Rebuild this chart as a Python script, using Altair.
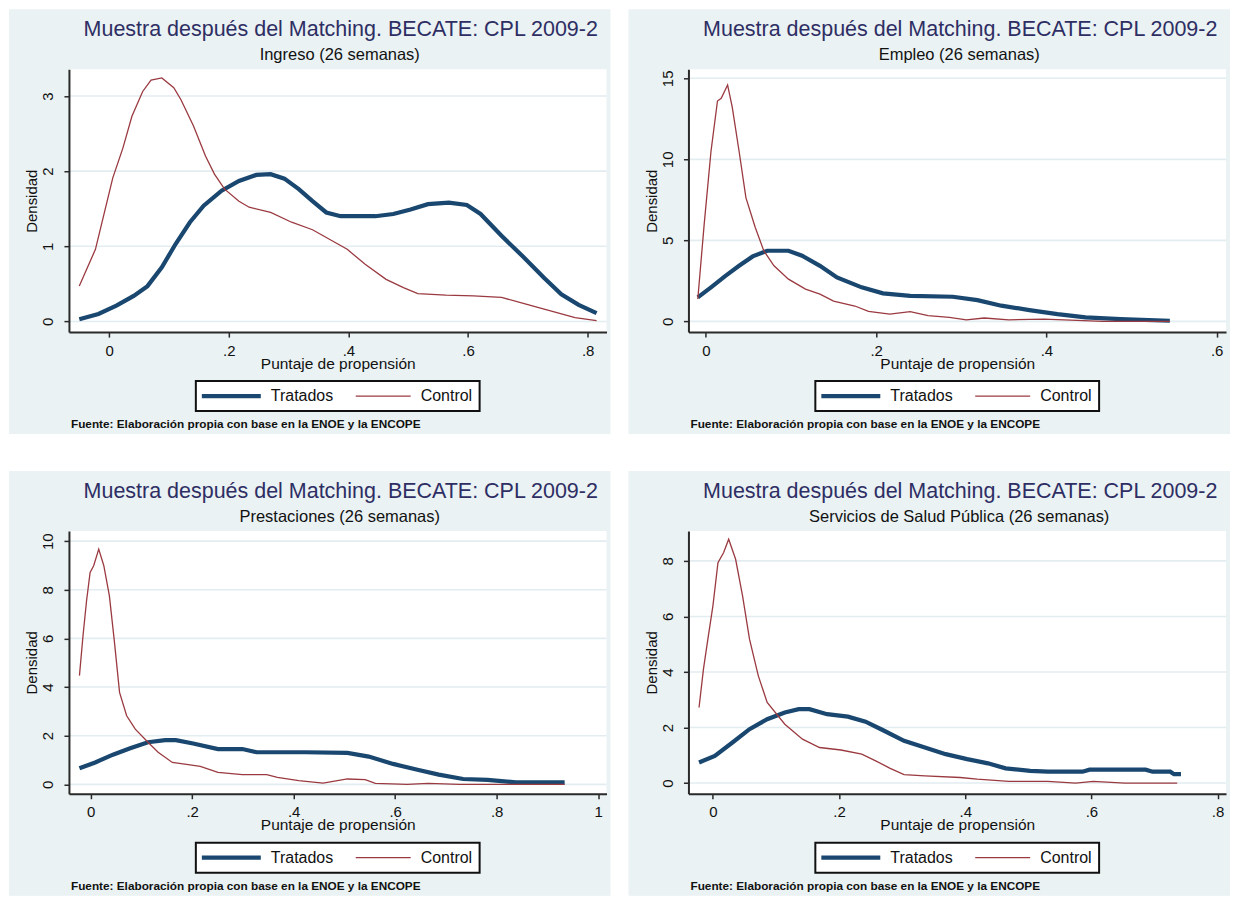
import altair as alt
import pandas as pd

FONT = "Liberation Sans"
TITLE = "Muestra después del Matching. BECATE: CPL 2009-2"
SUBTITLES = ["Ingreso (26 semanas)", "Empleo (26 semanas)",
             "Prestaciones (26 semanas)", "Servicios de Salud Pública (26 semanas)"]
SERIES = ["Tratados", "Control"]
X_TITLE = "Puntaje de propensión"
Y_TITLE = "Densidad"
NOTE = "Fuente: Elaboración propia con base en la ENOE y la ENCOPE"

# ---- Panel 1: Ingreso ----
ING_TRAT_X = [-0.050, -0.018, 0.012, 0.041, 0.064, 0.088, 0.111, 0.135, 0.158, 0.188, 0.217, 0.246,
              0.270, 0.293, 0.317, 0.340, 0.363, 0.387, 0.445, 0.475, 0.504, 0.533, 0.568, 0.598,
              0.621, 0.656, 0.691, 0.727, 0.756, 0.785, 0.815]
ING_TRAT_Y = [0.03, 0.10, 0.21, 0.34, 0.47, 0.72, 1.03, 1.32, 1.54, 1.74, 1.87, 1.95,
              1.96, 1.90, 1.76, 1.60, 1.45, 1.40, 1.40, 1.43, 1.49, 1.56, 1.58, 1.55,
              1.43, 1.14, 0.87, 0.58, 0.36, 0.22, 0.11]
ING_CTRL_X = [-0.050, -0.023, 0.006, 0.023, 0.038, 0.056, 0.070, 0.088, 0.108, 0.120, 0.141, 0.161,
              0.176, 0.193, 0.217, 0.234, 0.270, 0.305, 0.340, 0.369, 0.398, 0.428, 0.463, 0.492,
              0.516, 0.563, 0.609, 0.656, 0.697, 0.738, 0.779, 0.815]
ING_CTRL_Y = [0.47, 0.96, 1.91, 2.31, 2.73, 3.06, 3.21, 3.24, 3.11, 2.95, 2.60, 2.20,
              1.96, 1.76, 1.60, 1.52, 1.45, 1.32, 1.22, 1.09, 0.96, 0.76, 0.56, 0.45,
              0.37, 0.35, 0.34, 0.32, 0.23, 0.14, 0.05, 0.01]

# ---- Panel 2: Empleo ----
EMP_TRAT_X = [-0.0095, 0.006, 0.023, 0.039, 0.055, 0.072, 0.097, 0.113, 0.134, 0.154, 0.183,
              0.208, 0.240, 0.290, 0.319, 0.347, 0.380, 0.413, 0.446, 0.487, 0.545]
EMP_TRAT_Y = [1.48, 2.10, 2.81, 3.43, 4.01, 4.36, 4.36, 4.05, 3.43, 2.71, 2.10,
              1.73, 1.58, 1.52, 1.31, 0.97, 0.70, 0.45, 0.25, 0.14, 0.04]
EMP_CTRL_X = [-0.0095, -0.002, 0.006, 0.0136, 0.018, 0.0255, 0.031, 0.039, 0.047, 0.058, 0.068,
              0.080, 0.097, 0.117, 0.134, 0.150, 0.175, 0.191, 0.216, 0.240, 0.261, 0.286,
              0.306, 0.327, 0.356, 0.397, 0.421, 0.466, 0.503, 0.545]
EMP_CTRL_Y = [1.38, 6.0, 10.5, 13.6, 13.77, 14.59, 13.2, 10.5, 7.64, 5.79, 4.36,
              3.43, 2.61, 1.99, 1.68, 1.25, 0.95, 0.62, 0.45, 0.60, 0.35, 0.25,
              0.10, 0.21, 0.10, 0.14, 0.10, 0.0, 0.0, 0.0]

# ---- Panel 3: Prestaciones ----
PRE_TRAT_X = [-0.022, 0.009, 0.044, 0.078, 0.113, 0.147, 0.168, 0.202, 0.251, 0.299, 0.327,
              0.423, 0.506, 0.548, 0.596, 0.644, 0.686, 0.734, 0.782, 0.838, 0.934]
PRE_TRAT_Y = [0.66, 0.90, 1.22, 1.48, 1.73, 1.82, 1.82, 1.68, 1.45, 1.45, 1.32,
              1.32, 1.29, 1.14, 0.84, 0.60, 0.40, 0.22, 0.18, 0.08, 0.08]
PRE_CTRL_X = [-0.022, -0.015, -0.008, -0.001, 0.006, 0.016, 0.026, 0.037, 0.047, 0.057, 0.071,
              0.088, 0.113, 0.133, 0.161, 0.189, 0.216, 0.251, 0.299, 0.347, 0.368, 0.410,
              0.458, 0.506, 0.541, 0.561, 0.624, 0.665, 0.727, 0.838, 0.934]
PRE_CTRL_Y = [4.47, 6.11, 7.55, 8.71, 8.99, 9.67, 8.99, 7.75, 5.84, 3.78, 2.82,
              2.27, 1.73, 1.32, 0.90, 0.82, 0.74, 0.49, 0.40, 0.40, 0.29, 0.15,
              0.05, 0.22, 0.19, 0.04, 0.0, 0.04, 0.0, 0.0, 0.0]

# ---- Panel 4: Servicios de Salud Pública ----
SAL_TRAT_X = [-0.022, 0.003, 0.031, 0.058, 0.086, 0.114, 0.136, 0.153, 0.181, 0.214, 0.242,
              0.269, 0.303, 0.336, 0.369, 0.403, 0.436, 0.464, 0.503, 0.531, 0.586, 0.597,
              0.686, 0.697, 0.725, 0.731, 0.742]
SAL_TRAT_Y = [0.74, 0.98, 1.46, 1.94, 2.30, 2.54, 2.66, 2.66, 2.48, 2.39, 2.21,
              1.91, 1.52, 1.28, 1.04, 0.86, 0.71, 0.53, 0.44, 0.41, 0.41, 0.48,
              0.48, 0.41, 0.41, 0.32, 0.32]
SAL_CTRL_X = [-0.022, -0.015, -0.008, 0.0, 0.008, 0.017, 0.025, 0.036, 0.047, 0.058, 0.072,
              0.086, 0.114, 0.142, 0.169, 0.203, 0.236, 0.258, 0.281, 0.303, 0.336, 0.392,
              0.419, 0.469, 0.531, 0.575, 0.603, 0.653, 0.736]
SAL_CTRL_Y = [2.72, 4.10, 5.18, 6.38, 7.94, 8.30, 8.78, 8.06, 6.74, 5.18, 3.86,
              2.90, 2.12, 1.58, 1.28, 1.19, 1.04, 0.80, 0.53, 0.30, 0.26, 0.20,
              0.14, 0.06, 0.06, 0.0, 0.06, 0.0, 0.0]

# ---- axes ----
X_TICKS = [[0, 0.2, 0.4, 0.6, 0.8], [0, 0.2, 0.4, 0.6],
           [0, 0.2, 0.4, 0.6, 0.8, 1], [0, 0.2, 0.4, 0.6, 0.8]]
X_DOMAINS = [[-0.0673, 0.8316], [-0.0205, 0.611], [-0.0427, 1.0165], [-0.0388, 0.8134]]
Y_TICKS = [[0, 1, 2, 3], [0, 5, 10, 15], [0, 2, 4, 6, 8, 10], [0, 2, 4, 6, 8]]
Y_DOMAINS = [[-0.142, 3.355], [-0.66, 15.555], [-0.386, 10.42], [-0.385, 9.08]]

# ---- styling ----
W, H = 538, 263
BG = "#eaf2f3"
GRID = "#e3edf1"
NAVY = "#1a476f"
MAROON = "#9a3a40"
TITLE_COLOR = "#2e2e64"
INK = "#111111"
AXIS_INK = "#2a2a2a"

X_LABEL_EXPR = ("datum.value == 0 ? '0' : (datum.value >= 1 ? format(datum.value, 'd') : "
                "'.' + format(round(datum.value * 10), 'd'))")


def panel(i, tx, ty, cx, cy):
    one = pd.DataFrame({"k": [0]})
    trat = pd.DataFrame({"x": tx, "y": ty, "serie": SERIES[0]})
    ctrl = pd.DataFrame({"x": cx, "y": cy, "serie": SERIES[1]})
    grid_df = pd.DataFrame({"y": Y_TICKS[i]})

    xenc = alt.X("x:Q",
                 scale=alt.Scale(domain=X_DOMAINS[i], nice=False, zero=False),
                 axis=alt.Axis(values=X_TICKS[i], title=X_TITLE, labelExpr=X_LABEL_EXPR,
                               grid=False, zindex=1, domainColor=AXIS_INK, domainWidth=2,
                               tickColor=AXIS_INK, tickWidth=1.5, tickSize=5,
                               labelFont=FONT, labelFontSize=15, labelColor=INK,
                               labelPadding=6, labelFlush=False, labelOverlap=False,
                               titleFont=FONT, titleFontSize=15.5, titleFontWeight="normal",
                               titleColor=INK, titleY=31, titleBaseline="middle"))
    yenc = alt.Y("y:Q",
                 scale=alt.Scale(domain=Y_DOMAINS[i], nice=False, zero=False),
                 axis=alt.Axis(values=Y_TICKS[i], title=Y_TITLE, format="d",
                               grid=False, zindex=1, domainColor=AXIS_INK, domainWidth=2,
                               tickColor=AXIS_INK, tickWidth=1.5, tickSize=5,
                               labelFont=FONT, labelFontSize=15, labelColor=INK,
                               labelAngle=270, labelAlign="center", labelBaseline="middle",
                               labelPadding=16, labelOverlap=False, labelFlush=False,
                               titleFont=FONT, titleFontSize=15, titleFontWeight="normal",
                               titleColor=INK, titleAngle=270, titleX=-37, titleY=H / 2,
                               titleAlign="center", titleBaseline="middle"))

    bg = alt.Chart(one).mark_rect(color=BG).encode(
        x=alt.value(-60), x2=alt.value(W + 4), y=alt.value(-60), y2=alt.value(H + 102))
    plot_bg = alt.Chart(one).mark_rect(color="white").encode(
        x=alt.value(0), x2=alt.value(W), y=alt.value(0), y2=alt.value(H))
    grid = alt.Chart(grid_df).mark_rule(color=GRID, strokeWidth=1.6).encode(y=yenc)
    line_t = alt.Chart(trat).mark_line(color=NAVY, strokeWidth=4.2).encode(x=xenc, y=yenc)
    line_c = alt.Chart(ctrl).mark_line(color=MAROON, strokeWidth=1.3).encode(x=xenc, y=yenc)

    leg_box = alt.Chart(one).mark_rect(fill="white", stroke="#111111", strokeWidth=2).encode(
        x=alt.value(127), x2=alt.value(411), y=alt.value(H + 49), y2=alt.value(H + 79))
    leg_t = alt.Chart(one).mark_rule(color=NAVY, strokeWidth=4.2).encode(
        x=alt.value(133), x2=alt.value(192), y=alt.value(H + 64))
    leg_c = alt.Chart(one).mark_rule(color=MAROON, strokeWidth=1.3).encode(
        x=alt.value(287), x2=alt.value(342), y=alt.value(H + 64))
    leg_tt = alt.Chart(one).mark_text(font=FONT, fontSize=16, color=INK, align="left",
                                      baseline="middle").encode(
        x=alt.value(202), y=alt.value(H + 64), text=alt.value(SERIES[0]))
    leg_ct = alt.Chart(one).mark_text(font=FONT, fontSize=16, color=INK, align="left",
                                      baseline="middle").encode(
        x=alt.value(352), y=alt.value(H + 64), text=alt.value(SERIES[1]))
    note = alt.Chart(one).mark_text(font=FONT, fontSize=11.8, fontWeight="bold", color=INK,
                                    align="left", baseline="middle").encode(
        x=alt.value(2), y=alt.value(H + 92), text=alt.value(NOTE))
    title = alt.Chart(one).mark_text(font=FONT, fontSize=21.5, color=TITLE_COLOR,
                                     align="center", baseline="middle").encode(
        x=alt.value(W / 2 + 3), y=alt.value(-39), text=alt.value(TITLE))
    subtitle = alt.Chart(one).mark_text(font=FONT, fontSize=16.5, color=INK,
                                        align="center", baseline="middle").encode(
        x=alt.value(W / 2 + 2), y=alt.value(-14), text=alt.value(SUBTITLES[i]))

    return alt.layer(bg, plot_bg, grid, line_t, line_c, leg_box, leg_t, leg_c,
                     leg_tt, leg_ct, note, title, subtitle).properties(width=W, height=H)


p1 = panel(0, ING_TRAT_X, ING_TRAT_Y, ING_CTRL_X, ING_CTRL_Y)
p2 = panel(1, EMP_TRAT_X, EMP_TRAT_Y, EMP_CTRL_X, EMP_CTRL_Y)
p3 = panel(2, PRE_TRAT_X, PRE_TRAT_Y, PRE_CTRL_X, PRE_CTRL_Y)
p4 = panel(3, SAL_TRAT_X, SAL_TRAT_Y, SAL_CTRL_X, SAL_CTRL_Y)

row1 = alt.hconcat(p1, p2, spacing=16).resolve_scale(x="independent", y="independent")
row2 = alt.hconcat(p3, p4, spacing=16).resolve_scale(x="independent", y="independent")

chart = (alt.vconcat(row1, row2, spacing=35)
         .resolve_scale(x="independent", y="independent")
         .properties(padding=0, background="white")
         .configure_view(strokeWidth=0)
         .configure(font=FONT))

chart.save("out.html", embed_options={"renderer": "svg", "actions": False})
